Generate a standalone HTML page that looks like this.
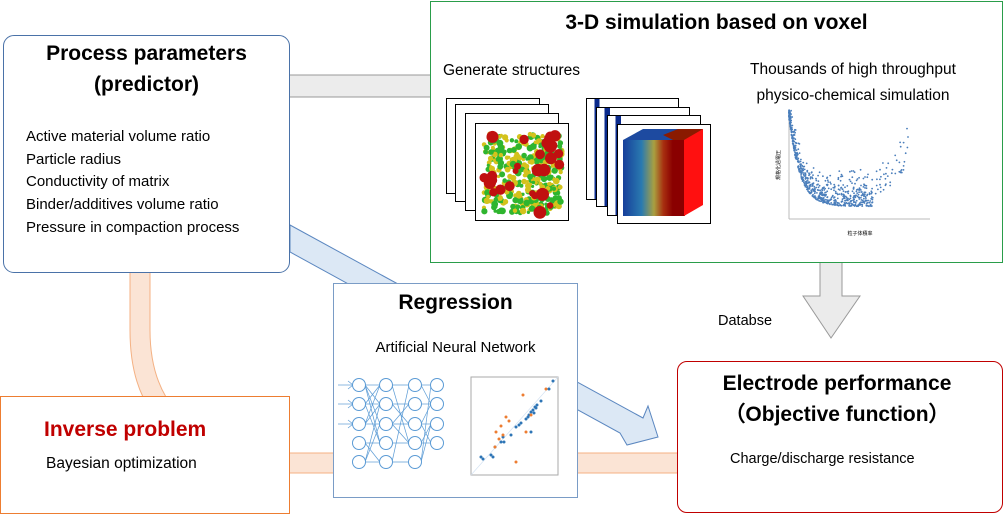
<!DOCTYPE html>
<html><head><meta charset="utf-8"><style>
body{margin:0;width:1003px;height:514px;position:relative;background:#fff;font-family:"Liberation Sans",sans-serif;overflow:hidden}
.a{position:absolute}
.box{position:absolute;box-sizing:border-box;background:#fff}
.t{position:absolute;white-space:nowrap;color:#000}
.fr{position:absolute;box-sizing:border-box;border:1.5px solid #000;background:#fff}
</style></head><body>
<svg class="a" style="left:0;top:0" width="1003" height="514">
<rect x="285" y="75" width="150" height="22" fill="#ececec" stroke="#999" stroke-width="1"/>
<rect x="285" y="453" width="400" height="20" fill="#fbe4d5" stroke="#f4b183" stroke-width="1"/>
<path d="M130,270 L130,330 Q130,370 143,397 L166,397 Q150,370 150,330 L150,270 Z" fill="#fbe4d5" stroke="#f4b183" stroke-width="1"/>
<polygon points="290,225 643,418 648,406 658,437 627,445 620,433 290,252" fill="#dce8f5" stroke="#5b87c0" stroke-width="1"/>
<polygon points="820,262 842,262 842,296 860,296 831,338 803,296 820,296" fill="#ebebeb" stroke="#999" stroke-width="1"/>
</svg>

<div class="box" style="left:3px;top:35px;width:287px;height:238px;border:1px solid #4a72a8;border-radius:11px"></div>
<div class="t" style="left:0;width:293px;text-align:center;top:38px;font-size:21px;font-weight:bold;line-height:31px">Process parameters<br>(predictor)</div>
<div class="t" style="left:26px;top:126px;font-size:15px;line-height:22.7px">Active material volume ratio<br>Particle radius<br>Conductivity of matrix<br>Binder/additives volume ratio<br>Pressure in compaction process</div>

<div class="box" style="left:430px;top:1px;width:573px;height:262px;border:1px solid #2a9d4a"></div>
<div class="t" style="left:430px;width:573px;text-align:center;top:11px;font-size:21px;font-weight:bold">3-D simulation based on voxel</div>
<div class="t" style="left:443px;top:62px;font-size:15.5px">Generate structures</div>
<div class="t" style="left:703px;width:300px;text-align:center;top:57px;font-size:15.5px;line-height:26px">Thousands of high throughput<br>physico-chemical simulation</div>

<div class="fr" style="left:446px;top:98px;width:94px;height:96px"></div>
<div class="fr" style="left:455px;top:104px;width:94px;height:98px"></div>
<div class="fr" style="left:465px;top:113px;width:94px;height:98px"></div>
<div class="fr" style="left:475px;top:123px;width:94px;height:98px">
<svg id="cube" width="91" height="95" style="display:block"></svg></div>
<div class="fr" style="left:586px;top:98px;width:93px;height:102px;background:linear-gradient(90deg,#fff 8%,#0a2a8c 8% 14%,#fff 14%)"></div>
<div class="fr" style="left:596px;top:107px;width:94px;height:100px;background:linear-gradient(90deg,#fff 8%,#0a2a8c 8% 14%,#fff 14%)"></div>
<div class="fr" style="left:607px;top:115px;width:94px;height:101px;background:linear-gradient(90deg,#fff 8%,#0a2a8c 8% 14%,#fff 14%)"></div>
<div class="fr" style="left:617px;top:124px;width:94px;height:100px">
<svg width="91" height="97" style="display:block">
<defs><linearGradient id="bg" x1="0" x2="1"><stop offset="0" stop-color="#163e9a"/><stop offset="0.3" stop-color="#2a7ab0"/><stop offset="0.5" stop-color="#a9a040"/><stop offset="0.65" stop-color="#a83010"/><stop offset="0.8" stop-color="#8a0000"/></linearGradient></defs>
<polygon points="5,15 25,4 85,4 66,15" fill="#1d4aa0"/>
<polygon points="45,10 60,4 85,4 70,15 55,15" fill="#8a1a00"/>
<rect x="5" y="15" width="62" height="76" fill="url(#bg)"/>
<polygon points="66,15 85,4 85,80 66,91" fill="#ff1010"/>
</svg></div>

<svg class="a" style="left:770px;top:105px" width="180" height="135" id="sc">
<line x1="19" y1="5" x2="19" y2="114" stroke="#bbb"/>
<line x1="19" y1="114" x2="160" y2="114" stroke="#bbb"/>
<text x="10" y="60" font-size="5" transform="rotate(-90 10 60)" text-anchor="middle" font-family="Liberation Sans,Noto Sans CJK JP,sans-serif">規格化過電圧</text>
<text x="90" y="130" font-size="5" text-anchor="middle" font-family="Liberation Sans,Noto Sans CJK JP,sans-serif">粒子体積率</text>
</svg>

<div class="box" style="left:333px;top:283px;width:245px;height:215px;border:1px solid #7a9cc6"></div>
<div class="t" style="left:333px;width:245px;text-align:center;top:291px;font-size:21px;font-weight:bold">Regression</div>
<div class="t" style="left:333px;width:245px;text-align:center;top:339px;font-size:15px">Artificial Neural Network</div>
<svg class="a" style="left:333px;top:370px" width="245" height="115" id="nn"></svg>

<div class="box" style="left:0;top:396px;width:290px;height:118px;border:1px solid #ed7d31"></div>
<div class="t" style="left:44px;top:418px;font-size:21px;font-weight:bold;color:#c00000">Inverse problem</div>
<div class="t" style="left:46px;top:455px;font-size:15.5px">Bayesian optimization</div>

<div class="t" style="left:718px;top:313px;font-size:14.5px">Databse</div>

<div class="box" style="left:677px;top:361px;width:326px;height:152px;border:1px solid #c00000;border-radius:10px"></div>
<div class="t" style="left:677px;width:326px;text-align:center;top:368px;font-size:21px;font-weight:bold;line-height:31px;padding-right:6px;box-sizing:border-box">Electrode performance<br>（Objective function）</div>
<div class="t" style="left:730px;top:451px;font-size:14.5px">Charge/discharge resistance</div>

<script>
var ns='http://www.w3.org/2000/svg',seed=7;
function r(){seed=(seed*16807)%2147483647;return seed/2147483647;}
function c(p,x,y,rad,f){var e=document.createElementNS(ns,'circle');e.setAttribute('cx',x);e.setAttribute('cy',y);e.setAttribute('r',rad);e.setAttribute('fill',f||'none');if(!f){e.setAttribute('stroke','#5b9bd5');e.setAttribute('stroke-width','0.9');}p.appendChild(e);}
var cb=document.getElementById('cube');
for(var i=0;i<420;i++){c(cb,(8+r()*78).toFixed(1),(10+r()*80).toFixed(1),(1.5+r()*2).toFixed(1),r()<0.55?'#d4c21c':'#2fb52f');}
for(i=0;i<28;i++){c(cb,(8+r()*78).toFixed(1),(10+r()*80).toFixed(1),(3+r()*3.5).toFixed(1),'#c01010');}
var s=document.getElementById('sc');
for(i=0;i<650;i++){var u=Math.pow(r(),1.6)*0.6;var x=19+u*140;var base=0.12+0.85*Math.exp(-u*13);var y=114-105*(base+r()*r()*0.3);if(y<5)y=5+r()*10;c(s,x.toFixed(1),y.toFixed(1),0.9,'#4a7ebb');}
for(i=0;i<90;i++){var u=0.35+r()*0.5;var x=19+u*140;var lo=0.12+(u>0.55?Math.pow((u-0.55)*2.2,2):0);var y=114-105*(lo+r()*0.35);if(y<8)y=8+r()*8;c(s,x.toFixed(1),y.toFixed(1),0.9,'#4a7ebb');}
var n=document.getElementById('nn');
var cols=[[26,5],[53,5],[82,5],[104,4]],ys=[15,34,54,73,92];
function l(x1,y1,x2,y2,col){var e=document.createElementNS(ns,'line');e.setAttribute('x1',x1);e.setAttribute('y1',y1);e.setAttribute('x2',x2);e.setAttribute('y2',y2);e.setAttribute('stroke',col||'#5b9bd5');e.setAttribute('stroke-width','0.7');n.appendChild(e);}
for(var k=0;k<3;k++)for(var a=0;a<cols[k][1];a++)for(var b=0;b<cols[k+1][1];b++)if(r()<0.45||a==b)l(cols[k][0]+6,ys[a],cols[k+1][0]-6,ys[b]);
for(a=0;a<3;a++){l(5,ys[a],20,ys[a]);l(15,ys[a]-4,20,ys[a]);l(15,ys[a]+4,20,ys[a]);}
for(k=0;k<4;k++)for(a=0;a<cols[k][1];a++){var e=document.createElementNS(ns,'circle');e.setAttribute('cx',cols[k][0]);e.setAttribute('cy',ys[a]);e.setAttribute('r',6.5);e.setAttribute('fill','#fff');e.setAttribute('stroke','#5b9bd5');n.appendChild(e);}
var rect=document.createElementNS(ns,'rect');rect.setAttribute('x',138);rect.setAttribute('y',7);rect.setAttribute('width',87);rect.setAttribute('height',98);rect.setAttribute('fill','#fff');rect.setAttribute('stroke','#aaa');n.appendChild(rect);
l(138,105,225,7,'#d5e3f3');
var pts=[[10,80],[12,82],[20,78],[22,80],[24,70],[30,65],[32,60],[40,58],[45,50],[48,48],[50,46],[55,42],[57,40],[58,38],[60,35],[62,33],[64,30],[65,31],[66,28],[63,36],[70,24],[78,12],[82,4],[60,55],[33,65]];
pts.forEach(function(p){c(n,138+p[0],7+p[1],1.5,'#2e75b6');});
var op=[[32,58],[28,62],[30,49],[35,40],[38,44],[45,85],[55,55],[60,38],[52,18],[75,12],[25,55],[24,70]];
op.forEach(function(p){c(n,138+p[0],7+p[1],1.5,'#ed7d31');});
</script>
</body></html>
